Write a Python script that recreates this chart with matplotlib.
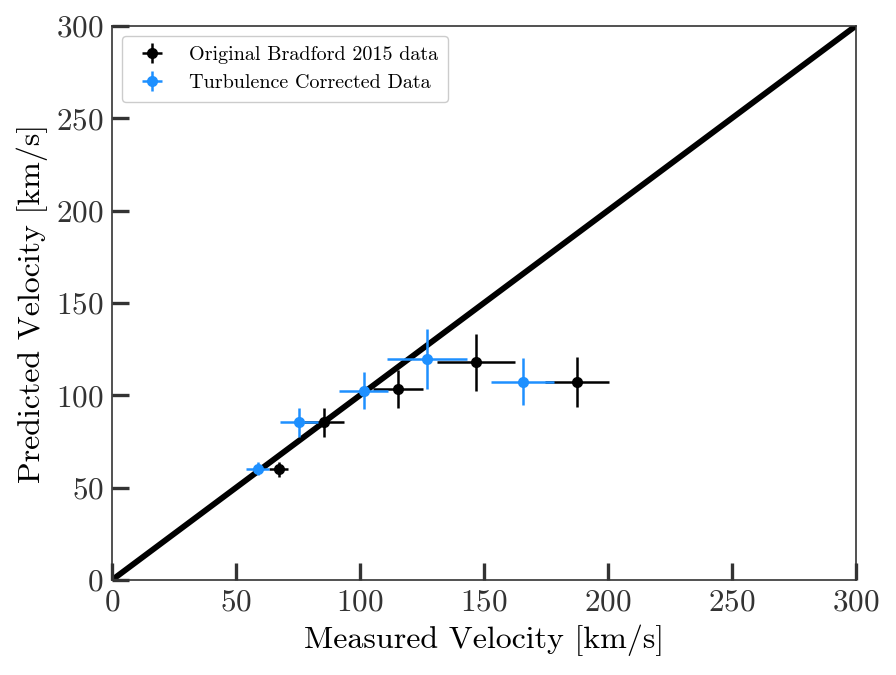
import numpy as np
import matplotlib
matplotlib.use("Agg")
import matplotlib.pyplot as plt

plt.rcParams["font.family"] = "serif"
plt.rcParams["font.serif"] = ["cmr10"]
plt.rcParams["mathtext.fontset"] = "cm"
plt.rcParams["axes.formatter.use_mathtext"] = True
plt.rcParams["axes.unicode_minus"] = False

# original Bradford 2015 data
orig_x = [67.3, 85.4, 115.4, 146.9, 187.5]
orig_y = [60.0, 85.4, 103.2, 117.8, 107.3]
orig_xerr = [3.8, 8.0, 10.0, 15.6, 13.0]
orig_yerr = [4.0, 7.7, 10.3, 15.6, 13.4]

# turbulence corrected
corr_x = [58.7, 75.4, 101.5, 127.0, 165.7]
corr_y = [60.2, 85.4, 102.5, 119.8, 107.4]
corr_xerr = [4.5, 7.7, 10.0, 16.2, 12.8]
corr_yerr = [3.5, 7.7, 10.0, 16.2, 12.8]

fig = plt.figure(figsize=(8.96, 6.75), dpi=100)
ax = fig.add_axes([0.125, 0.1407, 0.83, 0.8208])

line = np.array([0, 300])
ax.plot(line, line, color="black", lw=4.2, zorder=1)

ax.errorbar(orig_x, orig_y, xerr=orig_xerr, yerr=orig_yerr, fmt="o",
            color="black", ms=7, elinewidth=1.8, label="Original Bradford 2015 data", zorder=3)
ax.errorbar(corr_x, corr_y, xerr=corr_xerr, yerr=corr_yerr, fmt="o",
            color="#1e90ff", ms=7, elinewidth=1.8, label="Turbulence Corrected Data", zorder=4)

ax.set_xlim(0, 300)
ax.set_ylim(0, 300)
ax.set_xticks(np.arange(0, 301, 50))
ax.set_yticks(np.arange(0, 301, 50))
ax.tick_params(direction="in", length=12, width=2.4, labelsize=22.5,
               color="#333333", labelcolor="#333333", pad=6)
for s in ax.spines.values():
    s.set_color("#333333")
    s.set_linewidth(1.2)

ax.set_xlabel("Measured Velocity [km/s]", fontsize=23, labelpad=6)
ax.set_ylabel("Predicted Velocity [km/s]", fontsize=23, labelpad=6)

ax.legend(loc="upper left", fontsize=14.5, framealpha=1, edgecolor="#cccccc",
          handletextpad=0.8, borderpad=0.5)

fig.savefig("out.png", dpi=100)
